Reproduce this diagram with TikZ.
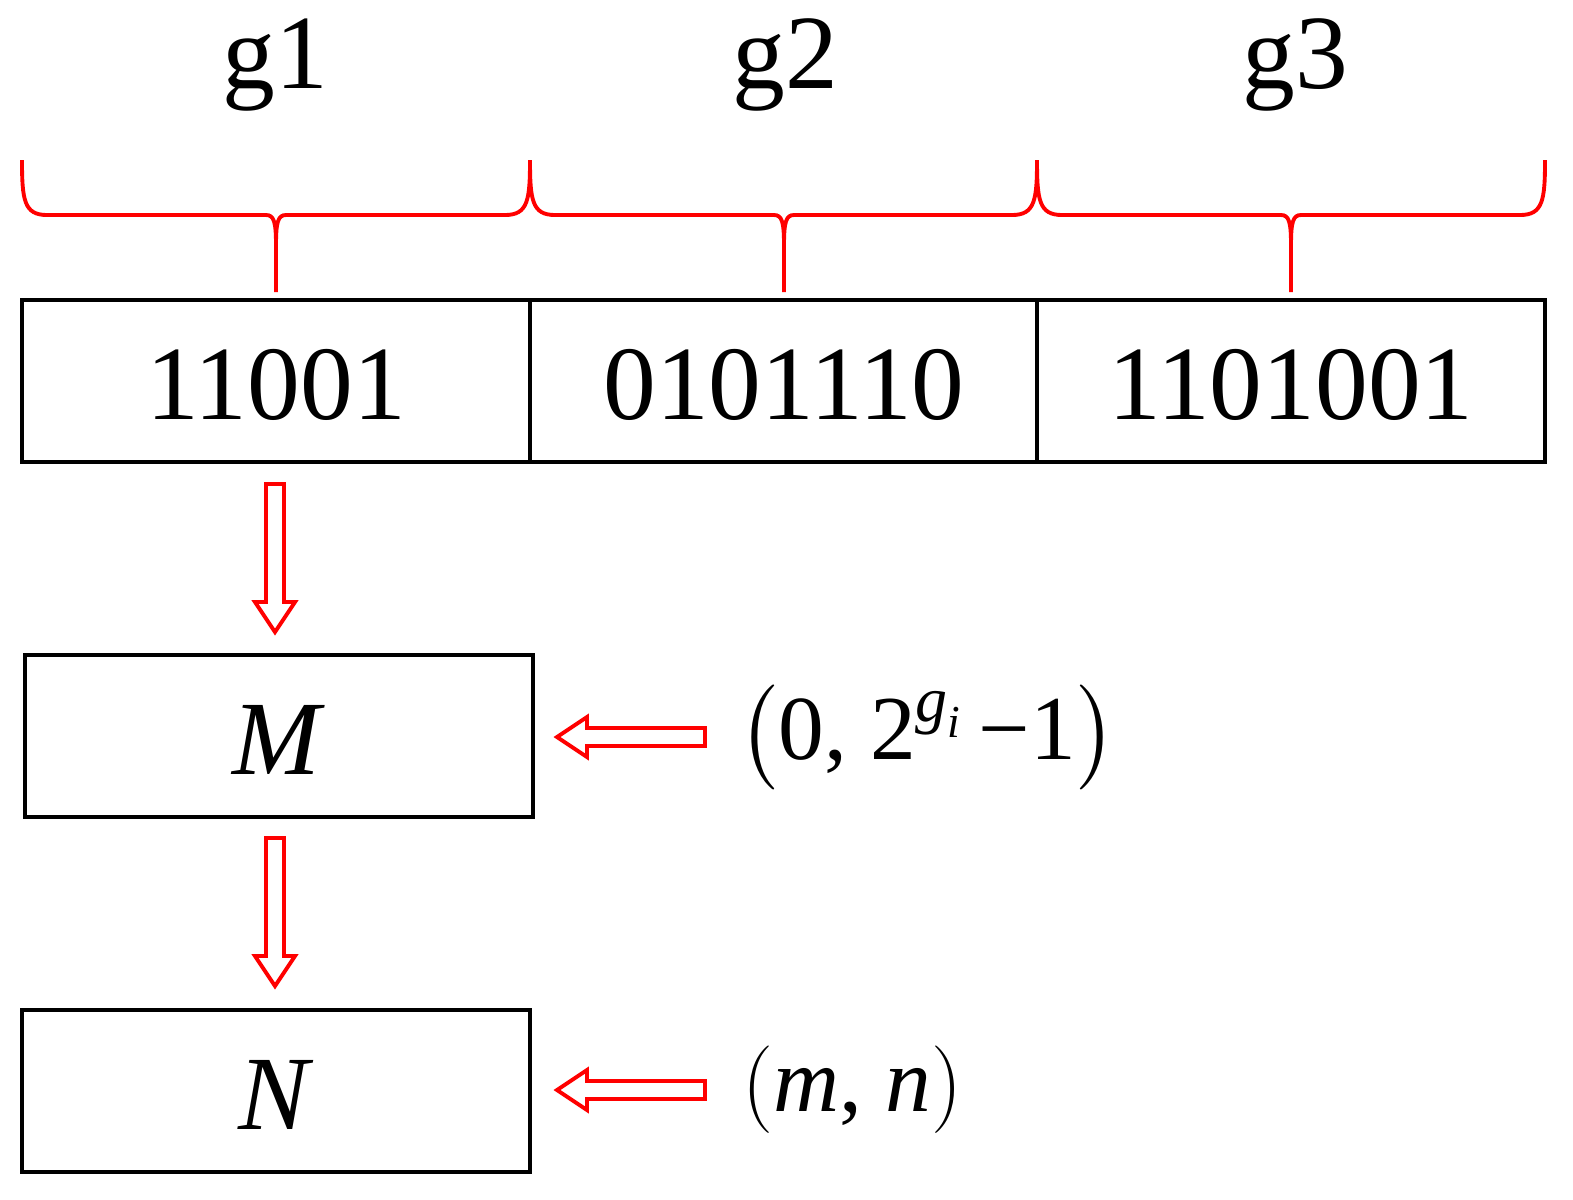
\documentclass[tikz,border=0pt]{standalone}
\usepackage{amsmath}
\usepackage{fontspec}
\setmainfont{Liberation Serif}
\begin{document}
\begin{tikzpicture}[x=0.01cm,y=-0.01cm,
  box/.style={draw,line width=1.2pt},
  red/.style={draw=red,line width=1.1pt},
  big/.style={font=\fontsize{30}{36}\selectfont},
  mid/.style={font=\fontsize{26}{32}\selectfont},
  pics/harrow/.style={code={
    \draw[red] (0,-9)--(118,-9)--(118,-20)--(148,0)--(118,20)--(118,9)--(0,9)--cycle;}}]
\useasboundingbox (0,0) rectangle (1573,1199);
% top boxes
\draw[box] (22,300) rectangle (530,462);
\draw[box] (530,300) rectangle (1037,462);
\draw[box] (1037,300) rectangle (1545,462);
\node[big] (b1) at (276,385) {11001};
\node[big] (b2) at (784,385) {0101110};
\node[big] (b3) at (1291,385) {1101001};
\node[big] (g1) at (275,65) {g1};
\node[big] (g2) at (785,65) {g2};
\node[big] (g3) at (1295,65) {g3};
% braces
\foreach \a/\m/\b in {22/276/530, 530/784/1037, 1037/1291/1545}{
  \draw[red] (\a,160) .. controls (\a,200) and (\a+2,215) .. (\a+25,215)
     -- (\m-10,215) .. controls (\m-2,215) and (\m,222) .. (\m,245) -- (\m,292);
  \draw[red] (\b,160) .. controls (\b,200) and (\b-2,215) .. (\b-25,215)
     -- (\m+10,215) .. controls (\m+2,215) and (\m,222) .. (\m,245);
}
% M and N
\draw[box] (25,655) rectangle (533,817);
\node[big] (M) at (279,740) {\textit{M}};
\draw[box] (22,1010) rectangle (530,1172);
\node[big] (N) at (276,1095) {\textit{N}};
% arrows
\pic[rotate=-90] at (275,484) {harrow};
\pic[rotate=-90] at (275,838) {harrow};
\pic[rotate=180] at (705,737) {harrow};
\pic[rotate=180] at (705,1090) {harrow};
\node[mid,anchor=west,inner sep=0pt] (f1) at (738,737) {$\left(\vphantom{\rule{0pt}{0.75cm}}\text{0, 2}^{\textit{g}_{\textit{i}}}\,\text{−1}\right)$};
\node[mid,anchor=west,inner sep=0pt] (f2) at (742,1090) {$\left(\vphantom{\rule{0pt}{0.55cm}}\textit{m}\text{, }\textit{n}\right)$};
\end{tikzpicture}
\end{document}
